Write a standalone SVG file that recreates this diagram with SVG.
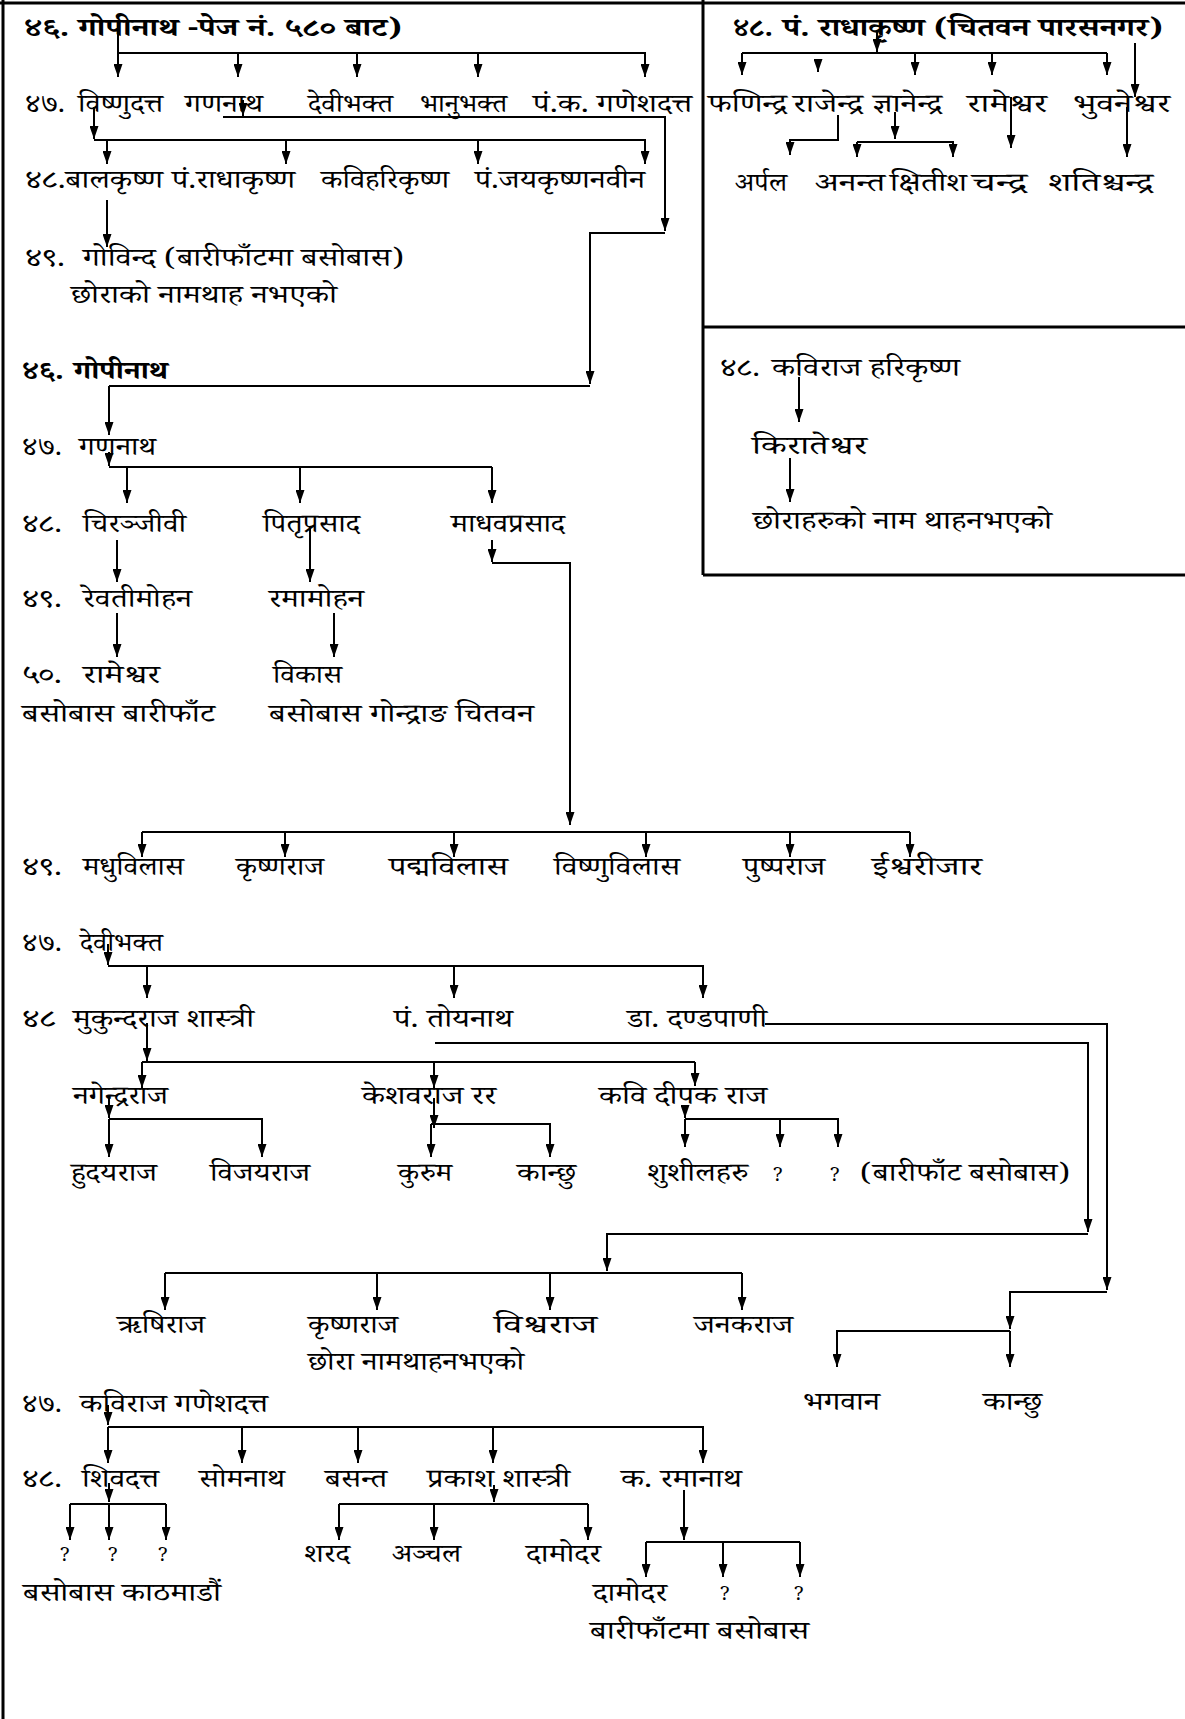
<svg xmlns="http://www.w3.org/2000/svg" width="1185" height="1719" viewBox="0 0 1185 1719">
<style>
text{font-family:"Noto Serif Devanagari","Noto Sans Devanagari","Lohit Devanagari","Noto Sans",sans-serif;font-size:26px;fill:#000}
.b{font-weight:bold}
.q{font-size:20px}
.c{fill:none;stroke:#000;stroke-width:2}
.a{fill:none;stroke:#000;stroke-width:2;marker-end:url(#ah)}
.f{fill:none;stroke:#000;stroke-width:3}
</style>
<defs>
<marker id="ah" viewBox="0 0 13 9" refX="13" refY="4.5" markerWidth="13" markerHeight="9" markerUnits="userSpaceOnUse" orient="auto"><path d="M0,0 L13,4.5 L0,9 z" fill="#000"/></marker>
</defs>
<rect width="1185" height="1719" fill="#fff"/>
<g id="frame">
<path class="f" d="M3,0 V1719 M0,3 H1185 M703,0 V575 M703,327 H1185 M703,575 H1185"/>
</g>
<g id="connectors">
<path class="a" d="M118,25 V77"/>
<path class="c" d="M118,53 H646"/>
<path class="a" d="M238,53 V77"/><path class="a" d="M357,53 V77"/><path class="a" d="M478,53 V77"/><path class="a" d="M645,53 V77"/>
<path class="a" d="M243,100 V116"/>
<path class="a" d="M223,117 H665 V231"/>
<path class="a" d="M665,233 H590 V384"/>
<path class="c" d="M590,386 H109"/>
<path class="a" d="M94,107 V139"/>
<path class="c" d="M94,140 H646"/>
<path class="a" d="M107,140 V164"/><path class="a" d="M286,140 V164"/><path class="a" d="M478,140 V164"/><path class="a" d="M645,140 V164"/>
<path class="a" d="M107,200 V247"/>
<path class="a" d="M109,386 V435"/>
<path class="a" d="M109,452 V466"/>
<path class="c" d="M109,467 H492"/>
<path class="a" d="M127,467 V503"/><path class="a" d="M300,467 V503"/><path class="a" d="M492,467 V503"/>
<path class="a" d="M117,540 V582"/><path class="a" d="M310,527 V582"/>
<path class="a" d="M492,540 V562"/>
<path class="a" d="M492,563 H570 V825"/>
<path class="a" d="M117,613 V657"/><path class="a" d="M334,613 V657"/>
<path class="c" d="M142,832 H910"/>
<path class="a" d="M142,832 V857"/><path class="a" d="M285,832 V857"/><path class="a" d="M454,832 V857"/><path class="a" d="M646,832 V857"/><path class="a" d="M790,832 V857"/><path class="a" d="M910,832 V857"/>
<path class="a" d="M108,944 V965"/>
<path class="a" d="M108,966 H703 V998"/>
<path class="a" d="M147,966 V998"/><path class="a" d="M454,966 V998"/>
<path class="a" d="M765,1024 H1107 V1290"/>
<path class="a" d="M1107,1292 H1010 V1329"/>
<path class="a" d="M1010,1331 H837 V1367"/>
<path class="a" d="M1010,1331 V1367"/>
<path class="a" d="M435,1043 H1088 V1232"/>
<path class="a" d="M1088,1234 H607 V1271"/>
<path class="c" d="M165,1273 H742"/>
<path class="a" d="M165,1273 V1310"/><path class="a" d="M377,1273 V1310"/><path class="a" d="M550,1273 V1310"/><path class="a" d="M742,1273 V1310"/>
<path class="a" d="M147,1023 V1061"/>
<path class="c" d="M142,1062 H695"/>
<path class="a" d="M142,1062 V1088"/><path class="a" d="M434,1062 V1088"/><path class="a" d="M695,1062 V1086"/>
<path class="a" d="M109,1098 V1118"/>
<path class="a" d="M109,1119 H262 V1157"/><path class="a" d="M109,1119 V1157"/>
<path class="a" d="M434,1098 V1128"/>
<path class="a" d="M431,1124 H550 V1157"/><path class="a" d="M431,1124 V1157"/>
<path class="a" d="M685,1105 V1118"/>
<path class="a" d="M685,1119 H838 V1147"/><path class="a" d="M685,1119 V1147"/><path class="a" d="M780,1119 V1147"/>
<path class="a" d="M108,1405 V1425"/>
<path class="a" d="M108,1427 H703 V1463"/>
<path class="a" d="M108,1427 V1463"/><path class="a" d="M242,1427 V1463"/><path class="a" d="M358,1427 V1463"/><path class="a" d="M493,1427 V1463"/>
<path class="a" d="M109,1483 V1502"/>
<path class="c" d="M70,1504 H166"/>
<path class="a" d="M70,1504 V1540"/><path class="a" d="M109,1504 V1540"/><path class="a" d="M166,1504 V1540"/>
<path class="a" d="M494,1485 V1502"/>
<path class="c" d="M339,1504 H588"/>
<path class="a" d="M339,1504 V1540"/><path class="a" d="M434,1504 V1540"/><path class="a" d="M588,1504 V1540"/>
<path class="a" d="M684,1490 V1540"/>
<path class="c" d="M646,1542 H800"/>
<path class="a" d="M646,1542 V1577"/><path class="a" d="M723,1542 V1577"/><path class="a" d="M800,1542 V1577"/>
<path class="a" d="M877,30 V52"/>
<path class="c" d="M742,53 H1107"/>
<path class="a" d="M742,53 V75"/><path class="a" d="M915,53 V75"/><path class="a" d="M992,53 V75"/><path class="a" d="M1107,53 V75"/>
<path class="a" d="M818,62 V72"/>
<path class="a" d="M1135,43 V97"/>
<path class="a" d="M838,115 V140 H790 V155"/>
<path class="a" d="M895,112 V139"/>
<path class="a" d="M857,142 H953 V157"/><path class="a" d="M857,142 V157"/>
<path class="a" d="M1011,97 V148"/>
<path class="a" d="M1127,107 V157"/>
<path class="a" d="M799,377 V422"/>
<path class="a" d="M790,458 V502"/>
</g>
<g id="n46a"><text class="b" x="24" y="36" textLength="378" lengthAdjust="spacingAndGlyphs">४६. गोपीनाथ -पेज नं. ५८० बाट)</text></g>
<g id="n47row1">
<text x="25" y="112" textLength="40" lengthAdjust="spacingAndGlyphs">४७.</text>
<text x="78" y="112" textLength="85" lengthAdjust="spacingAndGlyphs">विष्णुदत्त</text>
<text x="185" y="112" textLength="78" lengthAdjust="spacingAndGlyphs">गणनाथ</text>
<text x="308" y="112" textLength="85" lengthAdjust="spacingAndGlyphs">देवीभक्त</text>
<text x="420" y="112" textLength="87" lengthAdjust="spacingAndGlyphs">भानुभक्त</text>
<text x="533" y="112" textLength="159" lengthAdjust="spacingAndGlyphs">पं.क. गणेशदत्त</text>
</g>
<g id="n48row1">
<text x="25" y="188" textLength="138" lengthAdjust="spacingAndGlyphs">४८.बालकृष्ण</text>
<text x="172" y="188" textLength="123" lengthAdjust="spacingAndGlyphs">पं.राधाकृष्ण</text>
<text x="321" y="188" textLength="128" lengthAdjust="spacingAndGlyphs">कविहरिकृष्ण</text>
<text x="475" y="188" textLength="170" lengthAdjust="spacingAndGlyphs">पं.जयकृष्णनवीन</text>
</g>
<g id="n49govinda">
<text x="25" y="266" textLength="40" lengthAdjust="spacingAndGlyphs">४९.</text>
<text x="83" y="266" textLength="321" lengthAdjust="spacingAndGlyphs">गोविन्द (बारीफाँटमा बसोबास)</text>
<text x="71" y="303" textLength="266" lengthAdjust="spacingAndGlyphs">छोराको नामथाह नभएको</text>
</g>
<g id="n46b">
<text class="b" x="22" y="379" textLength="42" lengthAdjust="spacingAndGlyphs">४६.</text>
<text class="b" x="74" y="379" textLength="94" lengthAdjust="spacingAndGlyphs">गोपीनाथ</text>
</g>
<g id="n47gananath">
<text x="22" y="455" textLength="40" lengthAdjust="spacingAndGlyphs">४७.</text>
<text x="79" y="455" textLength="77" lengthAdjust="spacingAndGlyphs">गणनाथ</text>
</g>
<g id="n48row2">
<text x="22" y="532" textLength="40" lengthAdjust="spacingAndGlyphs">४८.</text>
<text x="83" y="532" textLength="103" lengthAdjust="spacingAndGlyphs">चिरञ्जीवी</text>
<text x="263" y="532" textLength="97" lengthAdjust="spacingAndGlyphs">पितृप्रसाद</text>
<text x="451" y="532" textLength="114" lengthAdjust="spacingAndGlyphs">माधवप्रसाद</text>
</g>
<g id="n49row2">
<text x="22" y="607" textLength="40" lengthAdjust="spacingAndGlyphs">४९.</text>
<text x="83" y="607" textLength="109" lengthAdjust="spacingAndGlyphs">रेवतीमोहन</text>
<text x="269" y="607" textLength="95" lengthAdjust="spacingAndGlyphs">रमामोहन</text>
</g>
<g id="n50row">
<text x="22" y="683" textLength="40" lengthAdjust="spacingAndGlyphs">५०.</text>
<text x="83" y="683" textLength="77" lengthAdjust="spacingAndGlyphs">रामेश्वर</text>
<text x="273" y="683" textLength="69" lengthAdjust="spacingAndGlyphs">विकास</text>
<text x="22" y="722" textLength="193" lengthAdjust="spacingAndGlyphs">बसोबास बारीफाँट</text>
<text x="269" y="722" textLength="265" lengthAdjust="spacingAndGlyphs">बसोबास गोन्द्राङ चितवन</text>
</g>
<g id="n49row3">
<text x="22" y="875" textLength="40" lengthAdjust="spacingAndGlyphs">४९.</text>
<text x="83" y="875" textLength="101" lengthAdjust="spacingAndGlyphs">मधुविलास</text>
<text x="236" y="875" textLength="88" lengthAdjust="spacingAndGlyphs">कृष्णराज</text>
<text x="389" y="875" textLength="119" lengthAdjust="spacingAndGlyphs">पद्मविलास</text>
<text x="554" y="875" textLength="126" lengthAdjust="spacingAndGlyphs">विष्णुविलास</text>
<text x="743" y="875" textLength="82" lengthAdjust="spacingAndGlyphs">पुष्पराज</text>
<text x="872" y="875" textLength="110" lengthAdjust="spacingAndGlyphs">ईश्वरीजार</text>
</g>
<g id="n47devibhakta">
<text x="22" y="951" textLength="40" lengthAdjust="spacingAndGlyphs">४७.</text>
<text x="80" y="951" textLength="83" lengthAdjust="spacingAndGlyphs">देवीभक्त</text>
</g>
<g id="n48row3">
<text x="22" y="1027" textLength="34" lengthAdjust="spacingAndGlyphs">४८</text>
<text x="73" y="1027" textLength="181" lengthAdjust="spacingAndGlyphs">मुकुन्दराज शास्त्री</text>
<text x="394" y="1027" textLength="119" lengthAdjust="spacingAndGlyphs">पं. तोयनाथ</text>
<text x="627" y="1027" textLength="140" lengthAdjust="spacingAndGlyphs">डा. दण्डपाणी</text>
</g>
<g id="n49row4">
<text x="73" y="1104" textLength="95" lengthAdjust="spacingAndGlyphs">नगेन्द्रराज</text>
<text x="362" y="1104" textLength="134" lengthAdjust="spacingAndGlyphs">केशवराज रर</text>
<text x="599" y="1104" textLength="168" lengthAdjust="spacingAndGlyphs">कवि दीपक राज</text>
</g>
<g id="n50row2">
<text x="71" y="1181" textLength="86" lengthAdjust="spacingAndGlyphs">हुदयराज</text>
<text x="210" y="1181" textLength="100" lengthAdjust="spacingAndGlyphs">विजयराज</text>
<text x="398" y="1181" textLength="54" lengthAdjust="spacingAndGlyphs">कुरुम</text>
<text x="517" y="1181" textLength="59" lengthAdjust="spacingAndGlyphs">कान्छु</text>
<text x="647" y="1181" textLength="101" lengthAdjust="spacingAndGlyphs">शुशीलहरु</text>
<text class="q" x="772" y="1181">?</text>
<text class="q" x="829" y="1181">?</text>
<text x="860" y="1181" textLength="210" lengthAdjust="spacingAndGlyphs">(बारीफाँट बसोबास)</text>
</g>
<g id="n49toyanath">
<text x="117" y="1333" textLength="88" lengthAdjust="spacingAndGlyphs">ऋषिराज</text>
<text x="308" y="1333" textLength="90" lengthAdjust="spacingAndGlyphs">कृष्णराज</text>
<text x="494" y="1333" textLength="103" lengthAdjust="spacingAndGlyphs">विश्वराज</text>
<text x="694" y="1333" textLength="99" lengthAdjust="spacingAndGlyphs">जनकराज</text>
<text x="308" y="1370" textLength="216" lengthAdjust="spacingAndGlyphs">छोरा नामथाहनभएको</text>
</g>
<g id="n49dandapani">
<text x="803" y="1410" textLength="77" lengthAdjust="spacingAndGlyphs">भगवान</text>
<text x="983" y="1410" textLength="59" lengthAdjust="spacingAndGlyphs">कान्छु</text>
</g>
<g id="n47ganeshdatta">
<text x="22" y="1412" textLength="40" lengthAdjust="spacingAndGlyphs">४७.</text>
<text x="80" y="1412" textLength="188" lengthAdjust="spacingAndGlyphs">कविराज गणेशदत्त</text>
</g>
<g id="n48row4">
<text x="22" y="1487" textLength="40" lengthAdjust="spacingAndGlyphs">४८.</text>
<text x="82" y="1487" textLength="77" lengthAdjust="spacingAndGlyphs">शिवदत्त</text>
<text x="199" y="1487" textLength="86" lengthAdjust="spacingAndGlyphs">सोमनाथ</text>
<text x="325" y="1487" textLength="62" lengthAdjust="spacingAndGlyphs">बसन्त</text>
<text x="427" y="1487" textLength="143" lengthAdjust="spacingAndGlyphs">प्रकाश शास्त्री</text>
<text x="621" y="1487" textLength="121" lengthAdjust="spacingAndGlyphs">क. रमानाथ</text>
</g>
<g id="n49row5">
<text class="q" x="59" y="1561">?</text>
<text class="q" x="107" y="1561">?</text>
<text class="q" x="157" y="1561">?</text>
<text x="304" y="1562" textLength="46" lengthAdjust="spacingAndGlyphs">शरद</text>
<text x="392" y="1562" textLength="69" lengthAdjust="spacingAndGlyphs">अञ्चल</text>
<text x="526" y="1562" textLength="75" lengthAdjust="spacingAndGlyphs">दामोदर</text>
<text x="23" y="1601" textLength="198" lengthAdjust="spacingAndGlyphs">बसोबास काठमाडौं</text>
<text x="593" y="1601" textLength="74" lengthAdjust="spacingAndGlyphs">दामोदर</text>
<text class="q" x="719" y="1600">?</text>
<text class="q" x="793" y="1600">?</text>
<text x="590" y="1639" textLength="219" lengthAdjust="spacingAndGlyphs">बारीफाँटमा बसोबास</text>
</g>
<g id="n48radhakrishna">
<text class="b" x="733" y="36" textLength="40" lengthAdjust="spacingAndGlyphs">४८.</text>
<text class="b" x="783" y="36" textLength="380" lengthAdjust="spacingAndGlyphs">पं. राधाकृष्ण (चितवन पारसनगर)</text>
</g>
<g id="n49radha">
<text x="708" y="112" textLength="79" lengthAdjust="spacingAndGlyphs">फणिन्द्र</text>
<text x="793" y="112" textLength="70" lengthAdjust="spacingAndGlyphs">राजेन्द्र</text>
<text x="873" y="112" textLength="69" lengthAdjust="spacingAndGlyphs">ज्ञानेन्द्र</text>
<text x="967" y="112" textLength="80" lengthAdjust="spacingAndGlyphs">रामेश्वर</text>
<text x="1073" y="112" textLength="97" lengthAdjust="spacingAndGlyphs">भुवनेश्वर</text>
</g>
<g id="n50radha">
<text x="735" y="191" textLength="52" lengthAdjust="spacingAndGlyphs">अर्पल</text>
<text x="815" y="191" textLength="70" lengthAdjust="spacingAndGlyphs">अनन्त</text>
<text x="890" y="191" textLength="77" lengthAdjust="spacingAndGlyphs">क्षितीश</text>
<text x="972" y="191" textLength="55" lengthAdjust="spacingAndGlyphs">चन्द्र</text>
<text x="1048" y="191" textLength="105" lengthAdjust="spacingAndGlyphs">शतिश्चन्द्र</text>
</g>
<g id="n48harikrishna">
<text x="720" y="376" textLength="40" lengthAdjust="spacingAndGlyphs">४८.</text>
<text x="772" y="376" textLength="188" lengthAdjust="spacingAndGlyphs">कविराज हरिकृष्ण</text>
<text x="752" y="454" textLength="115" lengthAdjust="spacingAndGlyphs">किरातेश्वर</text>
<text x="753" y="529" textLength="299" lengthAdjust="spacingAndGlyphs">छोराहरुको नाम थाहनभएको</text>
</g>
</svg>
